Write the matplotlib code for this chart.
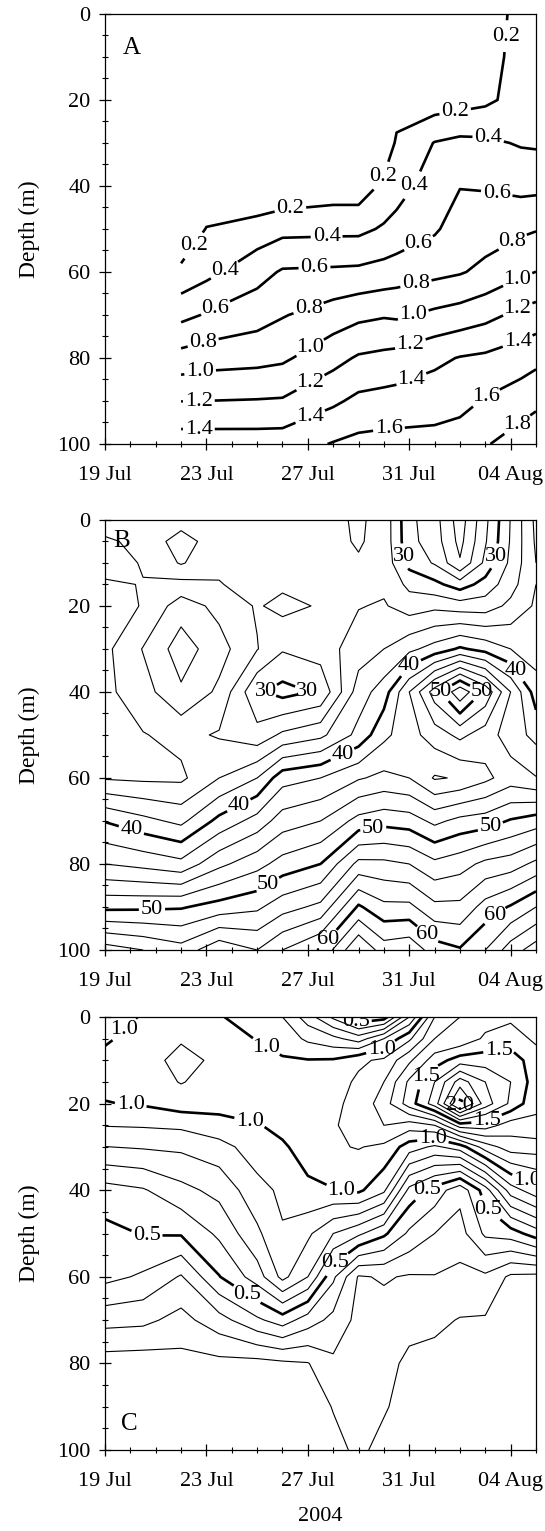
import numpy as np
import matplotlib
matplotlib.use('Agg')
import matplotlib.pyplot as plt
import matplotlib.dates as mdates
from matplotlib.ticker import MultipleLocator
from datetime import datetime

plt.rcParams['font.family'] = 'serif'
plt.rcParams['font.serif'] = ['Liberation Serif', 'DejaVu Serif']
plt.rcParams['font.size'] = 16
plt.rcParams['axes.linewidth'] = 0.9

START = datetime(2004, 7, 19)
END = datetime(2004, 8, 5)
t0 = mdates.date2num(START)

# ---------------- Panel A (days after 19 Jul, one depth profile per station) ----------------
a_days = [3, 4, 6, 7, 9, 10, 11, 11.5, 13, 14, 15, 16.4, 17]
a_depths = [0, 10, 20, 30, 40, 50, 60, 70, 80, 90, 100]
a_profiles = [
    [0.0, 0.0, 0.0, 0.0, 0.0, -0.01, 0.253, 0.544, 0.874, 1.197, 1.508],
    [0.0, 0.0, 0.0, 0.0, 0.0, 0.21, 0.343, 0.617, 0.914, 1.201, 1.506],
    [0.0, 0.0, 0.0, 0.0, 0.0, 0.286, 0.526, 0.718, 0.9375, 1.211, 1.502],
    [0.0, 0.0, 0.0, 0.0, 0.025, 0.343, 0.621, 0.787, 0.966, 1.219, 1.505],
    [0.05, 0.05, 0.05, 0.05, 0.081, 0.351, 0.633, 0.893, 1.133, 1.365, 1.612],
    [0.05, 0.05, 0.05, 0.05, 0.081, 0.351, 0.643, 0.951, 1.223, 1.446, 1.654],
    [0.05, 0.05, 0.05, 0.072, 0.243, 0.424, 0.675, 0.981, 1.251, 1.469, 1.668],
    [0.1, 0.1, 0.125, 0.224, 0.325, 0.46, 0.702, 0.969, 1.267, 1.481, 1.668],
    [0.06, 0.07, 0.088, 0.408, 0.492, 0.575, 0.747, 1.043, 1.355, 1.513, 1.668],
    [0.1, 0.11, 0.116, 0.451, 0.593, 0.689, 0.783, 1.083, 1.41, 1.538, 1.702],
    [0.15, 0.155, 0.158, 0.437, 0.585, 0.706, 0.85, 1.14, 1.436, 1.617, 1.783],
    [0.23, 0.24, 0.28, 0.383, 0.544, 0.763, 0.962, 1.253, 1.501, 1.706, 1.9],
    [0.24, 0.25, 0.28, 0.374, 0.548, 0.788, 1.002, 1.286, 1.545, 1.753, 1.948],
]
a_levels = [0.2, 0.4, 0.6, 0.8, 1.0, 1.2, 1.4, 1.6, 1.8]
a_label_pos = [(16.1, 5.3), (13.8, 22.3), (11.06, 38.2), (7.3, 44.8), (3.55, 54.1),
               (4.78, 60.2), (8.74, 51.8), (12.4, 40.9), (15.16, 27.8),
               (4.44, 69.4), (8.26, 58.7), (12.5, 54.9), (15.43, 42.5),
               (3.9, 77.1), (8.0, 67.9), (12.3, 63.7), (16.0, 52.2),
               (3.76, 83.6), (8.12, 77.9), (12.15, 69.8), (16.25, 61.4),
               (3.7, 90.1), (8.12, 85.9), (12.0, 75.9), (16.25, 68.3),
               (3.7, 96.5), (8.12, 94.0), (12.0, 83.6), (16.25, 75.6),
               (11.2, 96.6), (15.0, 88.9), (16.2, 95.0)]

# ---------------- Panel B ----------------
b_days = [0, 1.5, 3, 4.5, 6, 7, 8.5, 10, 11, 12, 13, 14, 15, 16, 17]
b_depths = [0, 5, 10, 15, 20, 30, 40, 50, 60, 70, 80, 90, 100]
b_profiles = [
    [33.0, 34.3, 34.6, 33.8, 33.2, 33.5, 33.5, 33.5, 33.8, 39.9, 44.0, 49.5, 57.0],
    [33.2, 33.5, 33.9, 34.05, 34.1, 36.1, 35.2, 33.9, 33.6, 38.6, 43.4, 49.6, 56.0],
    [33.0, 31.0, 31.8, 34.66, 37.05, 39.0, 37.7, 34.57, 33.6, 37.5, 42.6, 49.8, 54.8],
    [33.2, 33.3, 33.6, 34.1, 35.4, 36.8, 35.6, 33.8, 36.0, 40.6, 45.5, 50.8, 57.5],
    [33.0, 33.0, 33.1, 33.3, 33.8, 34.1, 30.3, 32.7, 38.0, 42.8, 47.3, 51.6, 56.0],
    [33.0, 33.0, 33.2, 33.6, 34.6, 32.2, 29.3, 34.4, 41.2, 45.0, 48.8, 53.2, 58.0],
    [33.2, 33.2, 33.2, 33.3, 33.8, 33.0, 30.3, 35.5, 42.0, 46.0, 50.0, 54.5, 60.2],
    [34.3, 34.2, 33.8, 33.5, 33.9, 35.0, 37.0, 38.6, 43.8, 48.7, 54.6, 60.3, 66.0],
    [33.3, 33.3, 33.4, 33.6, 34.2, 36.0, 39.0, 41.5, 44.5, 49.3, 54.5, 58.5, 63.0],
    [28.5, 28.6, 29.3, 31.5, 33.0, 37.5, 44.0, 43.2, 44.0, 49.0, 54.0, 58.5, 63.5],
    [26.8, 27.0, 27.8, 30.55, 33.5, 38.8, 49.0, 45.0, 41.8, 47.5, 52.5, 56.5, 61.0],
    [23.0, 23.4, 24.2, 29.0, 33.0, 40.3, 53.5, 46.5, 42.2, 48.6, 53.2, 56.5, 60.2],
    [27.5, 27.8, 28.5, 30.8, 33.0, 39.3, 49.5, 45.0, 43.5, 49.0, 54.5, 58.8, 62.0],
    [32.1, 32.2, 32.5, 33.2, 34.5, 38.0, 44.0, 43.0, 45.0, 50.2, 55.0, 60.2, 65.0],
    [36.5, 36.3, 36.0, 36.0, 36.3, 37.0, 39.0, 41.4, 44.1, 51.0, 56.5, 62.0, 67.0],
]
b_thin = [22, 24, 26, 28, 32, 34, 36, 38, 42, 44, 46, 48, 52, 54, 56, 58, 62, 64, 66, 68]
b_bold = [30, 40, 50, 60]
b_label_pos = [(11.75, 8.5), (15.43, 8.5), (6.3, 39.5), (8.0, 39.5), (11.95, 33.7),
               (16.25, 34.9), (13.25, 40.0), (14.85, 40.0), (9.35, 54.3), (5.3, 66.6),
               (1.1, 70.9), (10.6, 72.5), (15.2, 71.3), (6.55, 86.0), (1.85, 90.3),
               (8.5, 96.1), (12.7, 96.5), (15.4, 92.2)]

# ---------------- Panel C ----------------
c_days = [0, 1.5, 3, 4.5, 6, 7, 8, 9, 10, 11, 12, 13, 14, 15, 16, 17]
c_depths = [0, 5, 10, 15, 20, 25, 30, 40, 50, 60, 70, 80, 90, 100]
c_profiles = [
    [0.97, 0.99, 1.02, 1.03, 0.995, 0.905, 0.798, 0.56, 0.47, 0.43, 0.235, 0.05, 0.04, 0.04],
    [1.005, 1.03, 1.06, 1.05, 1.01, 0.91, 0.81, 0.59, 0.505, 0.385, 0.225, 0.045, 0.04, 0.04],
    [1.04, 1.09, 1.13, 1.105, 1.05, 0.92, 0.82, 0.67, 0.51, 0.29, 0.165, 0.065, 0.04, 0.04],
    [1.005, 1.05, 1.08, 1.06, 1.03, 0.97, 0.86, 0.73, 0.62, 0.495, 0.26, 0.07, 0.04, 0.04],
    [0.97, 0.995, 1.02, 1.035, 1.04, 0.995, 0.955, 0.865, 0.78, 0.65, 0.38, 0.065, 0.04, 0.04],
    [0.9, 0.96, 1.01, 1.04, 1.04, 1.02, 0.99, 0.92, 0.891, 0.83, 0.45, 0.08, 0.04, 0.04],
    [0.75, 0.88, 1.005, 1.05, 1.06, 1.06, 1.03, 0.985, 0.82, 0.7, 0.35, 0.095, 0.045, 0.04],
    [0.58, 0.83, 1.01, 1.05, 1.08, 1.095, 1.09, 0.995, 0.7, 0.42, 0.27, 0.18, 0.105, 0.07],
    [0.42, 0.75, 1.08, 1.12, 1.13, 1.12, 1.105, 1.02, 0.62, 0.19, 0.17, 0.15, 0.13, 0.12],
    [0.45, 0.9, 1.12, 1.2, 1.25, 1.2, 1.08, 0.92, 0.52, 0.21, 0.16, 0.13, 0.11, 0.07],
    [0.8, 1.08, 1.28, 1.42, 1.45, 1.15, 0.95, 0.57, 0.38, 0.19, 0.13, 0.08, 0.06, 0.06],
    [1.2, 1.3, 1.45, 1.6, 1.65, 1.2, 0.88, 0.46, 0.3, 0.195, 0.12, 0.07, 0.06, 0.06],
    [1.3, 1.32, 1.55, 1.85, 2.06, 1.45, 0.95, 0.33, 0.26, 0.17, 0.095, 0.06, 0.05, 0.05],
    [1.35, 1.42, 1.55, 1.7, 1.75, 1.45, 1.15, 0.55, 0.42, 0.18, 0.09, 0.06, 0.05, 0.05],
    [1.38, 1.45, 1.55, 1.6, 1.58, 1.35, 1.25, 0.85, 0.45, 0.08, 0.06, 0.05, 0.05, 0.05],
    [1.35, 1.38, 1.45, 1.45, 1.42, 1.38, 1.25, 0.96, 0.55, 0.07, 0.06, 0.05, 0.05, 0.05],
]
c_thin = [0.1, 0.2, 0.3, 0.4, 0.6, 0.7, 0.8, 0.9, 1.1, 1.2, 1.3, 1.4, 1.6, 1.7, 1.8, 1.9]
c_bold = [0.5, 1.0, 1.5, 2.0]
c_label_pos = [(1.02, 4.5), (6.35, 6.8), (10.9, 7.2), (1.0, 21.1), (5.7, 24.5), (9.3, 41.1),
               (12.9, 26.0), (16.5, 39.9), (9.76, 3.0), (1.64, 49.2), (12.7, 39.9), (15.2, 43.8),
               (5.46, 65.3), (9.0, 56.1), (12.7, 13.8), (15.6, 11.0), (15.0, 23.0), (14.0, 20.3)]


def setup_axis(ax):
    ax.set_xlim(mdates.date2num(START), mdates.date2num(END))
    ax.set_ylim(100, 0)
    ax.xaxis.set_major_locator(mdates.DayLocator(bymonthday=[4, 19, 23, 27, 31]))
    ax.xaxis.set_minor_locator(mdates.DayLocator())
    ax.xaxis.set_major_formatter(mdates.DateFormatter('%d %b'))
    ax.set_yticks([0, 20, 40, 60, 80, 100])
    ax.yaxis.set_minor_locator(MultipleLocator(5))
    ax.tick_params(which='major', direction='inout', length=9, width=0.9, labelsize=16)
    ax.tick_params(which='minor', direction='inout', length=5, width=0.8)
    ax.tick_params(axis='x', which='major', pad=11)
    ax.tick_params(axis='y', which='major', pad=6)
    ax.set_ylabel('Depth (m)', fontsize=17, labelpad=12)


def to_dates(days):
    return t0 + np.array(days, dtype=float)


def label_points(pos):
    return [(t0 + d, z) for d, z in pos]


def flat_labels(texts):
    # labels in the original are always written horizontally
    for t in texts:
        t.set_rotation(0)


fig = plt.figure(figsize=(5.45, 15.31), dpi=100)
ax_a = fig.add_axes([0.1927, 0.7100, 0.7908, 0.2809])
ax_b = fig.add_axes([0.1927, 0.3795, 0.7908, 0.2809])
ax_c = fig.add_axes([0.1927, 0.0529, 0.7908, 0.2828])

# Panel A
cs_a = ax_a.contour(to_dates(a_days), a_depths, np.array(a_profiles).T,
                    levels=a_levels, colors='k', linewidths=1.9)
setup_axis(ax_a)
flat_labels(ax_a.clabel(cs_a, fmt='%.1f', fontsize=16, inline=True, inline_spacing=2,
                        manual=label_points(a_label_pos)))
ax_a.text(0.04, 0.947, 'A', transform=ax_a.transAxes, fontsize=18, va='top', ha='left')

# Panel B
zb = np.array(b_profiles).T
ax_b.contour(to_dates(b_days), b_depths, zb, levels=b_thin, colors='k', linewidths=0.8)
cs_b = ax_b.contour(to_dates(b_days), b_depths, zb, levels=b_bold, colors='k', linewidths=1.9)
setup_axis(ax_b)
flat_labels(ax_b.clabel(cs_b, fmt='%d', fontsize=16, inline=True, inline_spacing=2,
                        manual=label_points(b_label_pos)))
ax_b.text(0.02, 0.977, 'B', transform=ax_b.transAxes, fontsize=18, va='top', ha='left')

# Panel C
zc = np.array(c_profiles).T
ax_c.contour(to_dates(c_days), c_depths, zc, levels=c_thin, colors='k', linewidths=0.8)
cs_c = ax_c.contour(to_dates(c_days), c_depths, zc, levels=c_bold, colors='k', linewidths=1.9)
setup_axis(ax_c)
flat_labels(ax_c.clabel(cs_c, fmt='%.1f', fontsize=16, inline=True, inline_spacing=2,
                        manual=label_points(c_label_pos)))
ax_c.text(0.037, 0.035, 'C', transform=ax_c.transAxes, fontsize=18, va='bottom', ha='left')
ax_c.set_xlabel('2004', fontsize=16, labelpad=12)

fig.savefig('out.png', dpi=100)
